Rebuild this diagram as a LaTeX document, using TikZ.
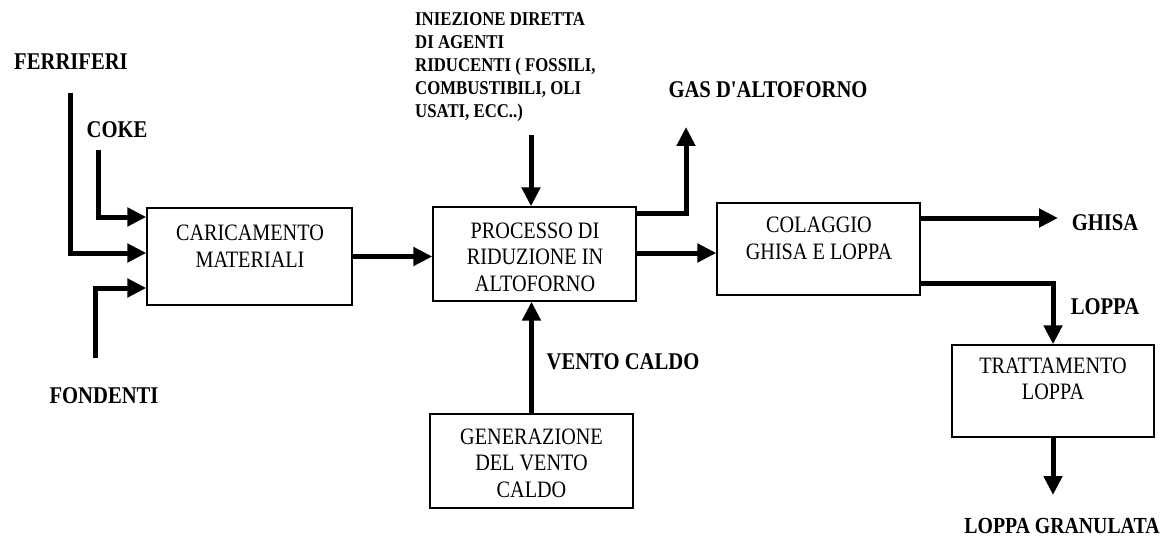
\documentclass[tikz,border=0pt]{standalone}
\usepackage{fontspec}
\setmainfont{Liberation Serif}
\newfontfamily\condserif[FakeStretch=0.86]{Liberation Serif}
\usetikzlibrary{arrows.meta}
\begin{document}
\begin{tikzpicture}[x=1pt,y=-1pt,
  procbox/.style={draw=black, line width=1.3pt, rectangle, inner sep=0pt},
  boxtext/.style={align=center, font=\condserif\fontsize{23.5}{26.5}\selectfont, inner sep=0pt},
  lbl/.style={font=\condserif\bfseries\fontsize{24}{26}\selectfont, inner sep=0pt},
  flowarrow/.style={line width=5pt, -{Triangle[length=19pt,width=18pt]}},
]
\useasboundingbox (0,0) rectangle (1169,540);

% process boxes
\node[procbox, minimum width=205pt, minimum height=97pt] (b1) at (249.5,256.5) {};
\node[procbox, minimum width=203pt, minimum height=94pt] (b2) at (534.5,254) {};
\node[procbox, minimum width=203pt, minimum height=92pt] (b3) at (818.5,249) {};
\node[procbox, minimum width=202pt, minimum height=92pt] (b4) at (1053,391) {};
\node[procbox, minimum width=203pt, minimum height=94pt] (b5) at (531.5,461) {};

% box captions
\node[boxtext] (t1) at (250,246) {CARICAMENTO\\MATERIALI};
\node[boxtext] (t2) at (535,257) {PROCESSO DI\\RIDUZIONE IN\\ALTOFORNO};
\node[boxtext] (t3) at (819,238.5) {COLAGGIO\\GHISA E LOPPA};
\node[boxtext] (t4) at (1053,379) {TRATTAMENTO\\LOPPA};
\node[boxtext] (t5) at (531.5,463) {GENERAZIONE\\DEL VENTO\\CALDO};

% stream labels
\node[lbl] (lfer) at (71,62) {FERRIFERI};
\node[lbl] (lcoke) at (117,130) {COKE};
\node[lbl] (lfon) at (104,396) {FONDENTI};
\node[lbl] (lgas) at (768,90) {GAS D'ALTOFORNO};
\node[lbl] (lghisa) at (1105,223) {GHISA};
\node[lbl] (lloppa) at (1105,307) {LOPPA};
\node[lbl] (lvento) at (623,362) {VENTO CALDO};
\node[lbl, font=\condserif\bfseries\fontsize{23}{25}\selectfont] (lgran) at (1062,526) {LOPPA GRANULATA};
\node[anchor=north west, align=left, inner sep=0pt,
      font=\condserif\bfseries\fontsize{19.5}{23}\selectfont] (linj) at (415,12)
  {INIEZIONE DIRETTA\\DI AGENTI\\RIDUCENTI ( FOSSILI,\\COMBUSTIBILI, OLI\\USATI, ECC..)};

% free ends of the flows
\coordinate (fer) at (70,93);
\coordinate (coke) at (98,150);
\coordinate (fon) at (95,358);
\coordinate (inj) at (531,135);
\coordinate (gas) at (686,127);
\coordinate (ghisa) at (1058,218);
\coordinate (gran) at (1053,495);

% flows
\draw[flowarrow] (fer) |- (b1.west |- 0,253);
\draw[flowarrow] (coke) |- (b1.west |- 0,217);
\draw[flowarrow] (fon) |- (b1.west |- 0,288);
\draw[flowarrow] (b1.east) -- (b1.east -| b2.west);
\draw[flowarrow] (inj) -- (inj |- b2.north);
\draw[flowarrow] (b2.east |- 0,213) -| (gas);
\draw[flowarrow] (b2.east |- 0,253) -- (b3.west |- 0,253);
\draw[flowarrow] (b5.north) -- (b5.north |- b2.south);
\draw[flowarrow] (b3.east |- 0,218) -- (ghisa);
\draw[flowarrow] (b3.east |- 0,283) -| (b4.north);
\draw[flowarrow] (b4.south) -- (gran);
\end{tikzpicture}
\end{document}
